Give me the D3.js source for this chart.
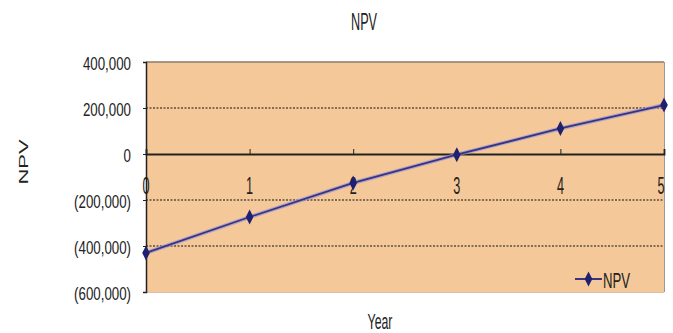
<!DOCTYPE html>
<html>
<head>
<meta charset="utf-8">
<script src="https://cdn.jsdelivr.net/npm/d3@7"></script>
<style>
  html, body { margin: 0; padding: 0; background: #fff; }
  text { font-family: "Liberation Sans", Arial, sans-serif; fill: #222; }
</style>
</head>
<body>
<svg id="chart" width="673" height="333"></svg>
<script>
// NPV by year
const years = [0, 1, 2, 3, 4, 5];
const npv = [-430000, -274000, -126000, -3000, 111000, 213000];
const yTicks = [400000, 200000, 0, -200000, -400000, -600000];
const yTickLabels = ["400,000", "200,000", "0", "(200,000)", "(400,000)", "(600,000)"];
const gridValues = [200000, -200000, -400000];

const W = 673, H = 333;
const margin = { left: 146, right: 9, top: 62, bottom: 41 };
const svg = d3.select("#chart");

const x = d3.scaleLinear().domain([0, 5]).range([margin.left, W - margin.right]);
const y = d3.scaleLinear().domain([-600000, 400000]).range([H - margin.bottom, margin.top]);

// condensed text: a group that squeezes the glyphs horizontally
function label(parent, px, py, str, opts) {
  const o = Object.assign({ size: 16, sx: 0.6, anchor: "middle", rotate: 0 }, opts);
  const g = parent.append("g")
    .attr("transform", `translate(${px},${py}) scale(${o.sx},1)` + (o.rotate ? ` rotate(${o.rotate})` : ""));
  return g.append("text").attr("text-anchor", o.anchor).attr("font-size", o.size).text(str);
}

// plot area
svg.append("rect")
  .attr("x", x(0)).attr("y", y(400000))
  .attr("width", x(5) - x(0)).attr("height", y(-600000) - y(400000))
  .attr("fill", "#F4C898");
svg.append("line")
  .attr("x1", x(0)).attr("x2", x(5)).attr("y1", y(400000)).attr("y2", y(400000))
  .attr("stroke", "#8c7a6a").attr("stroke-width", 1.5);
svg.append("line")
  .attr("x1", x(5) + 0.5).attr("x2", x(5) + 0.5).attr("y1", y(400000)).attr("y2", y(-600000))
  .attr("stroke", "#9a9a9a").attr("stroke-width", 1);
svg.append("line")
  .attr("x1", x(0)).attr("x2", x(5)).attr("y1", y(-600000) + 0.5).attr("y2", y(-600000) + 0.5)
  .attr("stroke", "#d9c3a8").attr("stroke-width", 1);

// dotted gridlines
svg.selectAll(".grid").data(gridValues).join("line")
  .attr("class", "grid")
  .attr("x1", x(0)).attr("x2", x(5))
  .attr("y1", d => y(d)).attr("y2", d => y(d))
  .attr("stroke", "#111").attr("stroke-width", 1.2)
  .attr("stroke-dasharray", "2,1.5");

// y axis
const yAxis = d3.axisLeft(y).tickValues(yTicks).tickFormat("").tickSize(3);
const gy = svg.append("g").attr("transform", `translate(${x(0)},0)`).call(yAxis);
gy.select(".domain").attr("stroke", "#222").attr("stroke-width", 1.5);
gy.selectAll(".tick line").attr("stroke", "#222");
yTicks.forEach((v, i) => {
  label(svg, x(0) - 15, y(v) + 8, yTickLabels[i], { size: 17.5, sx: 0.76, anchor: "end" });
});

// x axis along zero
const xAxis = d3.axisTop(x).tickValues(years).tickFormat("").tickSize(5);
const gx = svg.append("g").attr("transform", `translate(0,${y(0)})`).call(xAxis);
gx.select(".domain").attr("stroke", "#222").attr("stroke-width", 1.8);
gx.selectAll(".tick line").attr("stroke", "#222");
years.forEach(d => {
  label(svg, Math.min(x(d), x(5) - 3), y(0) + 40, String(d), { size: 23, sx: 0.55 });
});

// series line
const line = d3.line().x((d, i) => x(years[i])).y(d => y(d));
svg.append("path").datum(npv)
  .attr("d", line).attr("fill", "none")
  .attr("stroke", "#9a90d8").attr("stroke-width", 4).attr("opacity", 0.7);
svg.append("path").datum(npv)
  .attr("d", line).attr("fill", "none")
  .attr("stroke", "#35357f").attr("stroke-width", 1.8);

const diamond = "M0,-7.5L3.8,0L0,7.5L-3.8,0Z";
svg.selectAll(".pt").data(npv).join("path")
  .attr("class", "pt")
  .attr("transform", (d, i) => `translate(${x(years[i])},${y(d)})`)
  .attr("d", diamond).attr("fill", "#1f2170");

// legend
const lg = svg.append("g").attr("transform", "translate(575,279)");
lg.append("line").attr("x1", 0).attr("x2", 27).attr("y1", 0).attr("y2", 0)
  .attr("stroke", "#35357f").attr("stroke-width", 2);
lg.append("path").attr("d", diamond).attr("transform", "translate(13.5,0)").attr("fill", "#1f2170");
label(lg, 28, 9, "NPV", { size: 22, sx: 0.6, anchor: "start" });

// titles
label(svg, 364, 30, "NPV", { size: 23, sx: 0.55 });
label(svg, 28, 162, "NPV", { size: 22, sx: 0.58, rotate: -90 });
label(svg, 380, 329, "Year", { size: 22, sx: 0.56 });
</script>
</body>
</html>
